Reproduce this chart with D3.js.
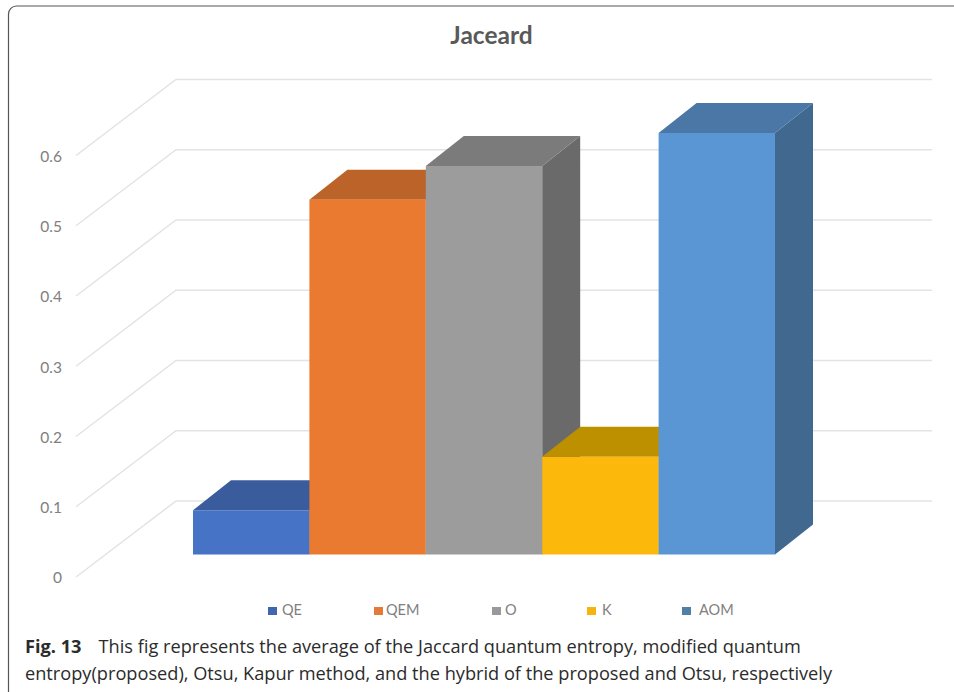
<!DOCTYPE html>
<html>
<head>
<meta charset="utf-8">
<script src="https://cdn.jsdelivr.net/npm/d3@7"></script>
<style>
html,body{margin:0;padding:0;background:#fff}
svg{display:block}
</style>
</head>
<body>
<div id="chart"></div>
<script>
// Jaccard averages per segmentation method
const categories = ["QE", "QEM", "O", "K", "AOM"];
const values = [0.063, 0.505, 0.553, 0.139, 0.6];
const yTicks = [0, 0.1, 0.2, 0.3, 0.4, 0.5, 0.6];
const frontColors = ["#4773c6", "#ea7a30", "#9c9c9c", "#fdb90b", "#5a96d3"];
const topColors = ["#3b5c9c", "#bb6328", "#7b7b7b", "#bd9000", "#4a77a6"];
const sideColors = ["#324f86", "#a05420", "#6a6a6a", "#9c7800", "#41688f"];
const legendColors = ["#3f66ae", "#e5793a", "#999999", "#f5b511", "#4f80a8"];
const legendSwatchX = [268, 374, 492, 587, 682];
const legendTextX = [282, 386, 505, 602, 699];
const captionBold = "Fig. 13";
const captionLine1 = "This fig represents the average of the Jaccard quantum entropy, modified quantum";
const captionLine2 = "entropy(proposed), Otsu, Kapur method, and the hybrid of the proposed and Otsu, respectively";

const W = 954, H = 692;
const svg = d3.select("#chart").append("svg").attr("width", W).attr("height", H);
const textFont = "Lato, 'Open Sans', sans-serif";

// Rounded panel edge, open on the right and bottom
svg.append("path")
  .attr("d", "M8.5 692V14a8 8 0 0 1 8-8H954")
  .attr("fill", "none").attr("stroke", "#555").attr("stroke-width", 1.2);

svg.append("text").attr("x", 491.5).attr("y", 44)
  .attr("text-anchor", "middle")
  .attr("font-family", textFont).attr("font-weight", 700).attr("font-size", 24.5)
  .attr("fill", "#595959").text("Jaceard");

// Value scale for the front plane of the bars; other planes are offsets of it
const y = d3.scaleLinear().domain([0, 0.6]).range([554.5, 133]);
const x = d3.scaleBand().domain(categories).range([193, 775]).padding(0);

const barDepth = { dx: 38, dy: -30 };
const wall = { x0: 76, x1: 176, x2: 932, dyLabel: 22.5, dyBack: -53.5 };

// Floor/side diagonals and back-wall gridlines
const grid = svg.append("g").attr("fill", "none")
  .attr("stroke", "#e3e3e3").attr("stroke-width", 1.5);
grid.selectAll("path").data(yTicks).join("path")
  .attr("d", d => {
    const front = y(d) + wall.dyLabel, back = y(d) + wall.dyBack;
    return `M${wall.x0} ${front}L${wall.x1} ${back}H${wall.x2}`;
  });

// Tick labels sit at the front end of each diagonal
const axis = d3.axisLeft(d3.scaleLinear().domain([0, 0.6]).range([y(0) + wall.dyLabel, y(0.6) + wall.dyLabel]))
  .tickValues(yTicks).tickSize(0).tickPadding(0)
  .tickFormat(d3.format("~g"));
const axisG = svg.append("g").attr("transform", "translate(62,1)").call(axis);
axisG.select(".domain").remove();
axisG.selectAll("text")
  .attr("font-family", textFont).attr("font-size", 15.5).attr("fill", "#808080");

// Bars painted left to right so each one overlaps its neighbour's side face
const bars = svg.append("g").selectAll("g").data(categories).join("g");
const poly = pts => pts.map(p => p.join(",")).join(" ");

bars.append("polygon").attr("fill", (d, i) => sideColors[i])
  .attr("points", (d, i) => {
    const r = x(d) + x.bandwidth(), t = y(values[i]), b = y(0);
    return poly([[r, t], [r + barDepth.dx, t + barDepth.dy], [r + barDepth.dx, b + barDepth.dy], [r, b]]);
  });
bars.append("polygon").attr("fill", (d, i) => topColors[i])
  .attr("points", (d, i) => {
    const l = x(d), r = l + x.bandwidth(), t = y(values[i]);
    return poly([[l, t], [l + barDepth.dx, t + barDepth.dy], [r + barDepth.dx, t + barDepth.dy], [r, t]]);
  });
bars.append("rect").attr("fill", (d, i) => frontColors[i])
  .attr("x", d => x(d)).attr("width", x.bandwidth())
  .attr("y", (d, i) => y(values[i])).attr("height", (d, i) => y(0) - y(values[i]));

// Legend
const legend = svg.append("g").selectAll("g").data(categories).join("g");
legend.append("rect")
  .attr("x", (d, i) => legendSwatchX[i]).attr("y", 607)
  .attr("width", 9).attr("height", 8)
  .attr("fill", (d, i) => legendColors[i]);
legend.append("text")
  .attr("x", (d, i) => legendTextX[i]).attr("y", 615)
  .attr("font-family", textFont).attr("font-size", 14.5).attr("fill", "#808080")
  .text(d => d);

// Caption
const capFont = "'Open Sans', 'Noto Sans', sans-serif";
const cap1 = svg.append("text").attr("x", 25).attr("y", 653)
  .attr("font-family", capFont).attr("font-size", 18.2).attr("fill", "#2b2b2b");
cap1.append("tspan").attr("font-weight", 700).text(captionBold);
cap1.append("tspan").attr("dx", 17).text(captionLine1);
svg.append("text").attr("x", 25).attr("y", 680)
  .attr("font-family", capFont).attr("font-size", 18.2).attr("fill", "#2b2b2b")
  .text(captionLine2);
</script>
</body>
</html>
